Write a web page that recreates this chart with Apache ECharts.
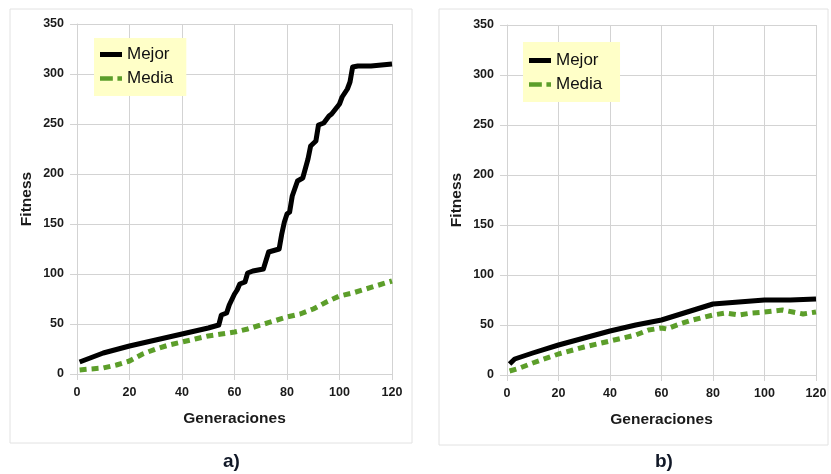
<!DOCTYPE html>
<html><head><meta charset="utf-8">
<script src="https://cdn.jsdelivr.net/npm/echarts@6/dist/echarts.min.js"></script>
<style>html,body{margin:0;padding:0;background:#fff}#c{width:831px;height:474px}</style>
</head><body><div id="c"></div>
<script>
// Panel a
var genA_mejor = [1,5,10,20,30,40,50,54,55,57,58,60,61,62,64,65,67,71,73,77,78,79,80,81,82,84,86,88,89,91,92,94,96,97,100,101,103,104,105,107,112,116,120];
var fitA_mejor = [12,16,21,28,34,40,46,49,59,61,69,80,84,90,92,101,103,105,122,125,140,152,160,162,178,193,196,215,228,233,249,251,258,260,270,277,285,292,307,308,308,309,310];
var genA_media = [1,5,10,15,20,25,30,35,40,45,50,55,60,65,70,75,80,85,90,95,100,105,110,115,120];
var fitA_media = [4,5,6,9,13,20,25,29,32,35,38,40,42,45,49,53,57,60,65,72,78,81,85,89,93];
// Panel b
var genB_mejor = [1,3,10,20,30,40,50,60,70,80,90,100,110,120];
var fitB_mejor = [11,16,22,30,37,44,50,55,63,71,73,75,75,76];
var genB_media = [1,5,10,20,30,40,50,55,60,62,67,72,80,85,90,95,100,107,111,115,120];
var fitB_media = [4,7,12,21,28,34,40,45,47,46,51,55,60,62,60,62,63,65,63,61,63];
var xTicks = [0,20,40,60,80,100,120];
var yTicks = [0,50,100,150,200,250,300,350];
var seriesNames = ['Mejor','Media'];
var panelLabels = ['a)','b)'];

function pairs(xs, ys){ return xs.map(function(x,i){return [x, ys[i]];}); }

var chart = echarts.init(document.getElementById('c'));
var gridCol = '#d3d3d3';
var font = 'Liberation Sans, Arial, sans-serif';
function xAx(i){ return {gridIndex:i,type:'value',min:xTicks[0],max:xTicks[xTicks.length-1],interval:20,
  name:'Generaciones',nameLocation:'middle',nameGap:37,
  nameTextStyle:{fontFamily:font,fontWeight:'bold',fontSize:15.5,color:'#1a1a1a'},
  axisLine:{lineStyle:{color:gridCol}},axisTick:{show:true,length:6,lineStyle:{color:gridCol}},
  axisLabel:{fontFamily:font,fontWeight:'bold',fontSize:12.5,color:'#1a1a1a',margin:12},
  splitLine:{show:true,lineStyle:{color:gridCol,width:1}}}; }
function yAx(i){ return {gridIndex:i,type:'value',min:yTicks[0],max:yTicks[yTicks.length-1],interval:50,
  name:'Fitness',nameLocation:'middle',nameGap:42,nameRotate:90,
  nameTextStyle:{fontFamily:font,fontWeight:'bold',fontSize:15.5,color:'#1a1a1a'},
  axisLine:{show:true,lineStyle:{color:gridCol}},axisTick:{show:true,length:7,lineStyle:{color:gridCol}},
  axisLabel:{fontFamily:font,fontWeight:'bold',fontSize:12.5,color:'#1a1a1a',margin:13},
  splitLine:{show:true,lineStyle:{color:gridCol,width:1}}}; }
function legendAt(i,left,top,pad){ return {left:left, top:top, orient:'vertical',
  backgroundColor:'#ffffc8', padding:pad, itemGap:7, itemWidth:22, itemHeight:5,
  textStyle:{fontFamily:font,fontSize:17,color:'#111'},
  data:[{name:seriesNames[0]+(i?' ':''),icon:'rect'},{name:seriesNames[1]+(i?' ':''),icon:'path://M0,0h14v5h-14zM19,0h5v5h-5z'}]}; }

var black='#000000', green='#5c9e2a';
chart.setOption({
  animation:false,
  graphic:[
    {type:'rect',shape:{x:10,y:9,width:402,height:434},style:{fill:'#fff',stroke:'#e2e2e2',lineWidth:1},z:-10},
    {type:'rect',shape:{x:439,y:9,width:389,height:436},style:{fill:'#fff',stroke:'#e2e2e2',lineWidth:1},z:-10},
    {type:'text',left:223,top:452,style:{text:panelLabels[0],font:'bold 19px '+font,fill:'#111827'}},
    {type:'text',left:655,top:452,style:{text:panelLabels[1],font:'bold 19px '+font,fill:'#111827'}}
  ],
  grid:[{left:77,top:24,width:315,height:350},{left:507,top:25,width:309,height:350}],
  xAxis:[xAx(0),xAx(1)],
  yAxis:[yAx(0),yAx(1)],
  legend:[legendAt(0,94,38,[8,13,9,6]),legendAt(1,523,42,[10,13,9,6])],
  series:[
    {name:'Mejor',type:'line',xAxisIndex:0,yAxisIndex:0,data:pairs(genA_mejor,fitA_mejor),symbol:'none',color:black,
      lineStyle:{color:black,width:5,join:'round'},z:3},
    {name:'Media',type:'line',xAxisIndex:0,yAxisIndex:0,data:pairs(genA_media,fitA_media),symbol:'none',color:green,
      lineStyle:{color:green,width:5,type:[7,5]},z:2},
    {name:'Mejor ',type:'line',xAxisIndex:1,yAxisIndex:1,data:pairs(genB_mejor,fitB_mejor),symbol:'none',color:black,
      lineStyle:{color:black,width:5,join:'round'},z:3},
    {name:'Media ',type:'line',xAxisIndex:1,yAxisIndex:1,data:pairs(genB_media,fitB_media),symbol:'none',color:green,
      lineStyle:{color:green,width:5,type:[7,5]},z:2}
  ]
});
</script></body></html>
